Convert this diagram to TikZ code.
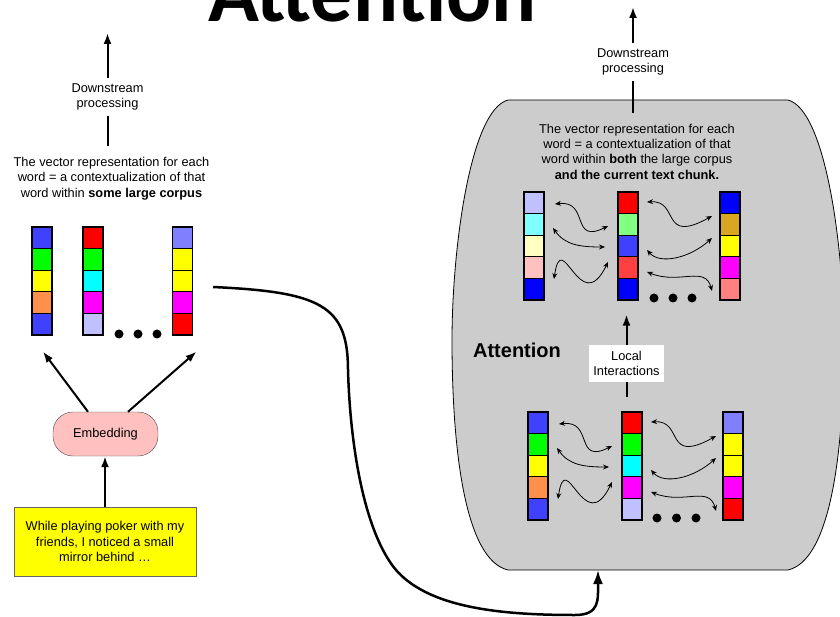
\documentclass[tikz,border=0pt]{standalone}
\usepackage{fontspec}
\setmainfont{Liberation Sans}
\newfontfamily\titlefont{Carlito}
\usepackage{tikz}
\definecolor{vblue}{RGB}{64, 64, 255}
\definecolor{vdeep}{RGB}{0, 0, 255}
\definecolor{vgreen}{RGB}{0, 255, 0}
\definecolor{vyellow}{RGB}{255, 255, 0}
\definecolor{vorange}{RGB}{255, 144, 76}
\definecolor{vred}{RGB}{255, 0, 0}
\definecolor{vcyan}{RGB}{0, 255, 255}
\definecolor{vmagenta}{RGB}{255, 0, 255}
\definecolor{vlavender}{RGB}{192, 192, 255}
\definecolor{vperi}{RGB}{128, 128, 255}
\definecolor{vpalecyan}{RGB}{128, 255, 255}
\definecolor{vcream}{RGB}{255, 255, 192}
\definecolor{vpink}{RGB}{255, 192, 192}
\definecolor{vmint}{RGB}{128, 255, 128}
\definecolor{vsalmon}{RGB}{255, 64, 64}
\definecolor{vgold}{RGB}{218, 165, 32}
\definecolor{vrose}{RGB}{255, 128, 128}
\definecolor{boxgray}{RGB}{204, 204, 204}
\usetikzlibrary{arrows.meta,positioning,calc}

\begin{document}
\begin{tikzpicture}[x=1pt, y=-1pt, font=\fontsize{12.8}{15.3}\selectfont]
    \tikzstyle{cell} = [rectangle, draw=black, line width=1.2pt, minimum width=20pt,
                        minimum height=21.6pt, inner sep=0pt]
    \tikzstyle{caption} = [align=center, inner xsep=0pt, inner ysep=10.7pt]
    \tikzstyle{flowlabel} = [align=center, minimum height=38pt, inner sep=0pt]
    \tikzstyle{arr} = [-{Latex[length=11pt,width=8pt]}, line width=2pt]
    \tikzstyle{wiggle} = [{Stealth[length=6pt,width=5pt]}-{Stealth[length=6pt,width=5pt]}, line width=0.8pt]
    \tikzstyle{embbox} = [rectangle, rounded corners=20pt, draw=black!70, fill=vpink,
                          minimum width=105pt, minimum height=44pt, inner sep=0pt]
    \tikzstyle{textbox} = [rectangle, draw=black!60, fill=vyellow, align=center,
                           minimum width=182pt, minimum height=69pt, inner sep=0pt]

    \useasboundingbox (0,0) rectangle (840,617);

    % Title (cut by the page top)
    \node[font=\titlefont\bfseries\fontsize{84}{84}\selectfont, anchor=base, inner sep=0pt] (title) at (372.5,22) {Attention};

    % Attention block
    \draw[fill=boxgray, line width=0.8pt] (508,100) -- (788,100)
        .. controls (826,110) and (844,250) .. (844,340)
        .. controls (844,450) and (831,560) .. (788,570) -- (508,570)
        .. controls (465,560) and (452,450) .. (452,340)
        .. controls (452,250) and (470,110) .. (508,100) -- cycle;

    % Left: embedding vectors
    \foreach \c [count=\i] in {vblue,vgreen,vyellow,vorange,vblue}
        \node[cell, fill=\c] (la\i) at (42, 216.2+21.6*\i) {};
    \foreach \c [count=\i] in {vred,vgreen,vcyan,vmagenta,vlavender}
        \node[cell, fill=\c] (lb\i) at (93, 216.2+21.6*\i) {};
    \foreach \c [count=\i] in {vperi,vyellow,vyellow,vmagenta,vred}
        \node[cell, fill=\c] (lc\i) at (182.5, 216.2+21.6*\i) {};
    \foreach \dx in {0,19,38}
        \fill (119+\dx,334) circle (4.5);

    % Right: contextual vectors (top)
    \foreach \c [count=\i] in {vlavender,vpalecyan,vcream,vpink,vdeep}
        \node[cell, fill=\c] (ta\i) at (534, 181.2+21.6*\i) {};
    \foreach \c [count=\i] in {vred,vmint,vblue,vsalmon,vdeep}
        \node[cell, fill=\c] (tb\i) at (628, 181.2+21.6*\i) {};
    \foreach \c [count=\i] in {vdeep,vgold,vyellow,vmagenta,vrose}
        \node[cell, fill=\c] (tc\i) at (730, 181.2+21.6*\i) {};
    \foreach \dx in {0,19,38}
        \fill (654+\dx,298) circle (4.5);

    % Right: input vectors (bottom)
    \foreach \c [count=\i] in {vblue,vgreen,vyellow,vorange,vblue}
        \node[cell, fill=\c] (ba\i) at (538, 401.2+21.6*\i) {};
    \foreach \c [count=\i] in {vred,vgreen,vcyan,vmagenta,vlavender}
        \node[cell, fill=\c] (bb\i) at (632, 401.2+21.6*\i) {};
    \foreach \c [count=\i] in {vperi,vyellow,vyellow,vmagenta,vred}
        \node[cell, fill=\c] (bc\i) at (733, 401.2+21.6*\i) {};
    \foreach \dx in {0,19.5,39}
        \fill (657+\dx,518) circle (4.5);

    % Interactions between words
    \foreach \gx/\gy in {524/192, 528/412} {
        \begin{scope}[shift={(\gx,\gy)}]
            \draw[wiggle] (31,12) .. controls (66,8) and (46,53) .. (84,34);
            \draw[wiggle] (29,36) .. controls (41,53) and (56,55) .. (81,55);
            \draw[wiggle] (30,87) .. controls (38,33) and (56,128) .. (84,70);
            \draw[wiggle] (123,10) .. controls (156,8) and (136,53) .. (188,24);
            \draw[wiggle] (123,58) .. controls (136,73) and (166,66) .. (188,46);
            \draw[wiggle] (123,80) .. controls (156,93) and (181,73) .. (188,99);
        \end{scope}
    }

    % Captions
    \node[caption] (lvec) at (111.5,178.5) {The vector representation for each\\word = a contextualization of that\\word within \textbf{some large corpus}};
    \node[caption] (rvec) at (637,151.6) {The vector representation for each\\word = a contextualization of that\\word within \textbf{both} the large corpus\\\textbf{and the current text chunk.}};
    \node[flowlabel] (ldown) at (107.5,97) {Downstream\\processing};
    \node[flowlabel] (rdown) at (633,62) {Downstream\\processing};
    \coordinate (ltip) at (107.5,33);
    \coordinate (rtip) at (633,7);
    \node[font=\bfseries\fontsize{20}{24}\selectfont] (attn) at (517,350.5) {Attention};
    \node[fill=white, align=center, minimum width=75pt, minimum height=37pt, inner sep=0pt] (local) at (626.5,363.5) {Local\\Interactions};

    % Embedding and input text
    \node[embbox] (emb) at (105.5,434) {Embedding};
    \node[textbox] (chunk) at (105,541.5) {While playing poker with my\\friends, I noticed a small\\mirror behind …};

    % Connections
    \draw[arr] (ldown) -- (ltip);
    \draw[line width=2pt] (ldown.south) -- (ldown.south |- lvec.north);
    \draw[arr] (rdown) -- (rtip);
    \draw[line width=2pt] (rdown.south) -- (rdown.south |- rvec.north);

    \draw[arr] (chunk.north) -- (chunk.north |- emb.south);
    \draw[arr] ($(emb.north)+(-17.5,0)$) -- ($(la5.south)+(1,16)$);
    \draw[arr] ($(emb.north)+(22.5,0)$) -- ($(lc5.south)+(14,16)$);

    \draw[line width=2pt] ($(bb1.north -| local)+(0,-14)$) -- (local);
    \draw[arr] (local) -- ($(tb5.south -| local)+(0,14)$);

    \coordinate (cstart) at ($(lc3.east)+(20,6)$);
    \coordinate (cend) at (598,570);
    \draw[-{Latex[length=14pt,width=10pt]}, line width=2.5pt] (cstart)
        .. controls (320,292) and (348,305) .. (348,370)
        .. controls (350,440) and (362,520) .. (390,562)
        .. controls (420,608) and (500,615) .. (575,615)
        .. controls (600,615) and (598,600) .. (cend);
\end{tikzpicture}
\end{document}
